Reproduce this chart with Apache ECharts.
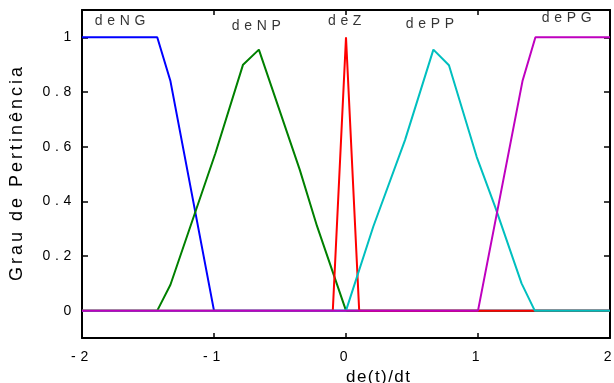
<!DOCTYPE html>
<html>
<head>
<meta charset="utf-8">
<script src="https://cdn.jsdelivr.net/npm/echarts@6/dist/echarts.min.js"></script>
<style>html,body{margin:0;padding:0;background:#fff}#c{width:614px;height:383px}</style>
</head>
<body>
<div id="c"></div>
<script>
// ---- data ----
var ngX = [-2, -1.43, -1.33, -1.0, 2];
var ngY = [1, 1, 0.84, 0, 0];
var npX = [-2, -1.43, -1.33, -0.99, -0.78, -0.66, -0.35, -0.22, 0, 2];
var npY = [0, 0, 0.095, 0.575, 0.90, 0.955, 0.515, 0.31, 0, 0];
var zX = [-2, -0.1, 0, 0.1, 2];
var zY = [0, 0, 1, 0, 0];
var ppX = [-2, 0, 0.207, 0.447, 0.662, 0.78, 0.99, 1.13, 1.33, 1.43, 2];
var ppY = [0, 0, 0.308, 0.624, 0.955, 0.898, 0.563, 0.38, 0.10, 0, 0];
var pgX = [-2, 1.0, 1.337, 1.435, 2];
var pgY = [0, 0, 0.84, 1, 1];
var seriesNames = ['deNG', 'deNP', 'deZ', 'dePP', 'dePG'];
var seriesColors = ['#0000ff', '#008000', '#ff0000', '#00bfbf', '#bf00bf'];
var labelX = [-1.712, -0.68, -0.01, 0.636, 1.672];
var labelY = [1.060, 1.040, 1.060, 1.048, 1.070];
var yTicks = [0, 0.2, 0.4, 0.6, 0.8, 1];
var xTicks = [-2, -1, 0, 1, 2];
var xName = 'de(t)/dt';
var yName = 'Grau de Pertinência';

function spaced(s, sep, trail) {
  var r = String(s).split('').join(sep);
  return trail ? r + sep : r;
}
function zip(xs, ys) { return xs.map(function (x, i) { return [x, ys[i]]; }); }

var FONT = "'Liberation Sans', Arial, sans-serif";
var TICKGAP = '\u2004';
var lineSets = [[ngX, ngY], [npX, npY], [zX, zY], [ppX, ppY], [pgX, pgY]];

var series = lineSets.map(function (p, i) {
  return {
    type: 'line', name: seriesNames[i], data: zip(p[0], p[1]),
    showSymbol: false, symbol: 'none',
    lineStyle: { color: seriesColors[i], width: 2 },
    itemStyle: { color: seriesColors[i] },
    xAxisIndex: 0, yAxisIndex: 0, z: 2 + i
  };
});
series.push({
  type: 'scatter', xAxisIndex: 0, yAxisIndex: 0, symbolSize: 1,
  itemStyle: { color: 'rgba(0,0,0,0)' }, z: 20,
  data: seriesNames.map(function (n, i) { return { name: n, value: [labelX[i], labelY[i]] }; }),
  label: {
    show: true, position: 'inside', color: '#000', fontSize: 14, fontFamily: FONT,
    formatter: function (p) { return spaced(p.name, '\u2005\u200A', false); }
  }
});

var axisLine = { show: true, onZero: false, lineStyle: { color: '#000', width: 2 } };
var chart = echarts.init(document.getElementById('c'), null, { renderer: 'canvas' });
chart.setOption({
  animation: false,
  backgroundColor: '#fff',
  grid: { left: 82, right: 4, top: 10, bottom: 45, containLabel: false, outerBoundsMode: 'none' },
  xAxis: [{
    type: 'value', position: 'bottom', min: -2, max: 2, interval: 1,
    axisLine: axisLine, splitLine: { show: false },
    axisTick: { show: true, inside: true, length: 5, lineStyle: { color: '#000', width: 1.5 } },
    axisLabel: { show: true, margin: 12, color: '#000', fontSize: 14, fontFamily: FONT,
      customValues: xTicks,
      formatter: function (v) { return spaced(v, TICKGAP, true); } },
    name: spaced(xName, '\u200A', false), nameLocation: 'middle', nameGap: 23,
    nameTextStyle: { color: '#000', fontSize: 17, fontFamily: FONT, padding: [0, 0, 0, 64] }
  }, {
    type: 'value', position: 'top', min: -2, max: 2, interval: 1,
    axisLine: axisLine, splitLine: { show: false },
    axisTick: { show: true, inside: true, length: 5, lineStyle: { color: '#000', width: 1.5 } },
    axisLabel: { show: false }
  }],
  yAxis: [{
    type: 'value', position: 'left', min: -0.1, max: 1.1,
    axisLine: axisLine, splitLine: { show: false },
    axisTick: { show: true, inside: true, length: 6, customValues: yTicks, lineStyle: { color: '#000', width: 1.5 } },
    axisLabel: { show: true, margin: 6, color: '#000', fontSize: 14, fontFamily: FONT,
      customValues: yTicks,
      formatter: function (v) { return spaced(+v.toFixed(1), TICKGAP, true); } },
    name: spaced(yName, '\u2006', false), nameLocation: 'middle', nameGap: 56, nameRotate: 90,
    nameTextStyle: { color: '#000', fontSize: 18, fontFamily: FONT }
  }, {
    type: 'value', position: 'right', min: -0.1, max: 1.1,
    axisLine: axisLine, splitLine: { show: false },
    axisTick: { show: true, inside: true, length: 6, customValues: yTicks, lineStyle: { color: '#000', width: 1.5 } },
    axisLabel: { show: false }
  }],
  series: series
});
</script>
</body>
</html>
